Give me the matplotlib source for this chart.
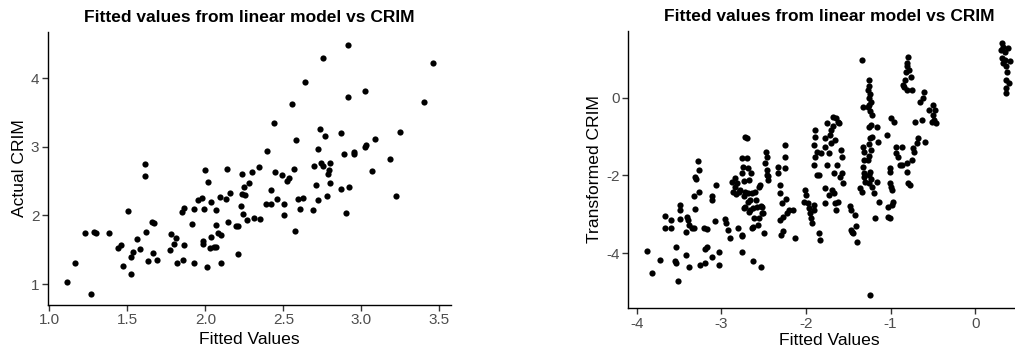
import matplotlib
matplotlib.use("Agg")
import matplotlib.pyplot as plt

plt.rcParams["font.family"] = ["Liberation Sans", "DejaVu Sans"]
plt.rcParams["axes.unicode_minus"] = False

# left panel: fitted vs actual CRIM
left_fitted = [
    1.115, 1.168, 1.228, 1.270, 1.285, 1.298, 1.383, 1.440, 1.462, 1.474,
    1.506, 1.521, 1.523, 1.536, 1.560, 1.581, 1.615, 1.611, 1.617, 1.632,
    1.657, 1.662, 1.674, 1.691, 1.774, 1.781, 1.798, 1.809, 1.819, 1.853,
    1.864, 1.862, 1.860, 1.915, 1.928, 1.926, 1.951, 1.977, 1.996, 1.991,
    1.983, 1.987, 2.009, 2.015, 2.028, 2.034, 2.036, 2.053, 2.068, 2.070,
    2.066, 2.079, 2.096, 2.100, 2.100, 2.138, 2.134, 2.145, 2.157, 2.198,
    2.209, 2.211, 2.228, 2.232, 2.234, 2.240, 2.249, 2.255, 2.270, 2.281,
    2.298, 2.309, 2.347, 2.343, 2.389, 2.398, 2.423, 2.421, 2.438, 2.445,
    2.462, 2.491, 2.502, 2.506, 2.521, 2.538, 2.553, 2.568, 2.577, 2.581,
    2.594, 2.606, 2.628, 2.636, 2.691, 2.696, 2.706, 2.719, 2.723, 2.736,
    2.738, 2.755, 2.751, 2.764, 2.779, 2.785, 2.794, 2.800, 2.798, 2.866,
    2.868, 2.887, 2.900, 2.913, 2.917, 2.919, 2.955, 2.955, 3.021, 3.026,
    3.028, 3.068, 3.087, 3.181, 3.223, 3.245, 3.404, 3.457,
]
left_actual = [
    1.03, 1.30, 1.75, 0.86, 1.76, 1.74, 1.74, 1.53, 1.57, 1.27,
    2.06, 1.39, 1.15, 1.46, 1.65, 1.51, 2.75, 2.57, 1.76, 1.33,
    1.91, 1.45, 1.89, 1.35, 1.49, 1.73, 1.59, 1.67, 1.30, 2.05,
    2.11, 1.57, 1.35, 1.88, 2.10, 1.30, 2.23, 2.25, 2.66, 2.10,
    1.63, 1.58, 1.25, 2.49, 1.52, 1.69, 2.20, 1.54, 2.08, 1.86,
    1.54, 1.74, 2.27, 1.72, 1.30, 2.67, 2.24, 1.91, 2.33, 1.85,
    1.44, 1.85, 2.14, 2.31, 2.60, 2.02, 2.41, 2.30, 1.94, 2.48,
    2.63, 1.96, 1.95, 2.71, 2.17, 2.94, 2.17, 2.37, 3.35, 2.64,
    2.24, 2.59, 2.00, 2.17, 2.50, 2.54, 3.63, 2.67, 1.77, 3.10,
    2.24, 2.10, 2.25, 3.94, 2.08, 2.72, 2.45, 2.97, 2.22, 3.26,
    2.77, 4.30, 2.72, 3.16, 2.28, 2.61, 2.66, 2.76, 2.47, 3.20,
    2.39, 2.89, 2.04, 4.49, 3.72, 2.41, 2.90, 2.93, 3.00, 3.82,
    3.03, 2.65, 3.11, 2.82, 2.29, 3.22, 3.65, 4.22,
]

# right panel: fitted vs transformed CRIM
right_fitted = [
    -3.88, -3.82, -3.72, -3.67, -3.66, -3.59, -3.59, -3.53, -3.55, -3.53,
    -3.51, -3.49, -3.49, -3.49, -3.42, -3.42, -3.41, -3.39, -3.38, -3.38,
    -3.35, -3.32, -3.31, -3.32, -3.31, -3.30, -3.27, -3.26, -3.26, -3.25,
    -3.20, -3.19, -3.17, -3.19, -3.17, -3.11, -3.11, -3.11, -3.06, -3.07,
    -3.03, -3.03, -2.96, -2.94, -2.92, -2.90, -2.87, -2.86, -2.84, -2.83,
    -2.82, -2.80, -2.79, -2.78, -2.76, -2.75, -2.76, -2.75, -2.73, -2.73,
    -2.73, -2.72, -2.70, -2.70, -2.68, -2.67, -2.68, -2.66, -2.67, -2.65,
    -2.64, -2.63, -2.62, -2.61, -2.60, -2.59, -2.58, -2.57, -2.54, -2.53,
    -2.53, -2.51, -2.49, -2.48, -2.47, -2.46, -2.46, -2.45, -2.45, -2.33,
    -2.84, -2.72, -2.64, -2.56, -2.72, -2.66, -2.52, -2.56, -2.52, -2.62,
    -2.76, -2.74, -2.46, -2.68,
    -2.33, -2.31, -2.31, -2.31, -2.30, -2.28, -2.27, -2.27, -2.25, -2.25,
    -2.25, -2.23, -2.22, -2.20, -2.15, -2.13, -2.01, -2.00, -2.02, -1.97,
    -1.96, -1.95, -1.94, -1.93, -1.91, -1.90, -1.89, -1.89, -1.91, -1.89,
    -1.90, -1.87, -1.87, -1.85, -1.84, -1.83, -1.82, -1.78, -1.78, -1.78,
    -1.77, -1.75, -1.75, -1.73, -1.73, -1.72, -1.70, -1.70, -1.69, -1.68,
    -1.68, -1.67, -1.67, -1.66, -1.66, -1.64, -1.64, -1.63, -1.62, -1.62,
    -1.61, -1.60, -1.59, -1.57, -1.57, -1.56, -1.48, -1.47, -1.47, -1.46,
    -1.44, -1.42, -1.41, -1.40, -1.34, -1.36, -1.34, -1.33, -1.32, -1.31,
    -1.31, -1.32, -1.31, -1.31, -1.30,
    -1.26, -1.25, -1.27, -1.24, -1.26, -1.23, -1.25, -1.27, -1.24, -1.22,
    -1.23, -1.25, -1.22, -1.24, -1.26, -1.23, -1.25, -1.27, -1.24, -1.26,
    -1.23, -1.25, -1.22,
    -1.24, -1.19, -1.18, -1.16, -1.15, -1.16, -1.14, -1.04, -1.03, -1.03,
    -1.01, -1.00, -1.01, -1.01, -1.01, -1.00, -0.98, -0.98, -0.97, -0.96,
    -0.93, -0.93, -0.91, -0.89, -0.87, -0.87, -0.85, -0.84, -0.83, -0.82,
    -0.81, -0.80, -0.79, -0.78, -0.76, -0.81, -0.81, -0.80, -0.79, -0.77,
    -0.75, -0.75, -0.73, -0.72, -0.71, -0.69, -0.67, -0.65, -0.63, -0.62,
    -0.61, -0.59, -0.55, -0.50, -0.50, -0.49, -0.48, -0.46, -0.51,
    0.315, 0.307, 0.33, 0.32, 0.335, 0.35, 0.37, 0.38, 0.39, 0.41,
    0.37, 0.37, 0.40, 0.37, 0.35,
]
right_crim = [
    -3.93, -4.51, -4.17, -3.04, -3.34, -3.14, -3.34, -3.83, -4.20, -4.26,
    -4.71, -2.75, -2.90, -3.12, -4.04, -3.46, -3.06, -3.14, -3.27, -4.34,
    -3.34, -2.54, -2.86, -3.34, -2.03, -2.09, -1.64, -1.86, -2.43, -4.30,
    -3.36, -4.26, -3.37, -3.90, -3.85, -2.54, -2.63, -4.09, -2.24, -3.17,
    -3.96, -4.30, -3.13, -3.23, -3.40, -3.60, -2.16, -2.42, -2.29, -2.48,
    -2.19, -3.34, -2.42, -2.37, -3.97, -3.55, -1.94, -1.56, -2.14, -2.54,
    -2.84, -1.00, -1.04, -1.56, -1.82, -2.12, -2.46, -2.63, -2.93, -1.94,
    -3.36, -4.21, -2.84, -3.10, -2.42, -2.63, -2.80, -3.27, -2.24, -4.34,
    -2.78, -2.96, -3.47, -1.69, -1.39, -1.52, -1.86, -2.01, -2.12, -1.77,
    -2.07, -2.42, -2.46, -2.29, -2.80, -2.89, -2.80, -3.10, -2.97, -3.32,
    -3.53, -1.77, -1.99, -2.67,
    -1.94, -2.24, -2.44, -3.14, -3.53, -2.72, -3.44, -3.06, -1.22, -1.52,
    -1.82, -2.61, -2.97, -2.90, -2.90, -3.60, -2.37, -2.50, -2.67, -2.72,
    -2.84, -2.97, -3.10, -3.23, -2.76, -2.89, -0.83, -1.00, -1.23, -1.52,
    -1.73, -1.99, -1.39, -1.99, -3.49, -3.66, -1.43, -1.04, -2.33, -2.72,
    -1.26, -0.64, -1.73, -2.50, -1.43, -0.95, -0.83, -1.17, -2.37, -0.49,
    -0.73, -1.94, -2.46, -2.72, -1.09, -0.53, -2.90, -1.73, -0.62, -2.67,
    -0.66, -2.03, -1.34, -1.52, -1.94, -2.20, -2.78, -2.90, -3.40, -3.46,
    -3.49, -3.01, -3.30, -3.70, 0.97, -2.33, -2.42, -0.23, -1.26, -1.39,
    -1.60, -1.77, -1.94, -2.03, -2.16,
    0.45, 0.30, 0.20, 0.10, 0.00, -0.10, -0.20, -0.25, -0.35, -0.45,
    -0.70, -0.75, -1.00, -1.05, -1.20, -1.35, -1.50, -1.60, -1.90, -2.00,
    -2.10, -2.20, -2.30,
    -5.07, -2.46, -3.10, -0.75, -1.13, -2.16, -2.67, -0.96, -2.80, -3.06,
    -3.10, -0.53, -1.82, -1.90, -2.20, -2.29, -2.37, -2.76, -2.67, -0.62,
    -1.26, -1.43, -1.52, -1.73, -1.26, -1.73, 0.33, 0.27, 0.45, 0.67,
    0.80, 0.88, 1.05, 0.71, 0.54, 0.20, -1.69, -1.90, -2.20, -2.24,
    0.20, -1.60, -1.30, -1.39, -0.62, -1.17, -1.04, -0.10, -0.57, -0.02,
    0.15, -1.13, -0.32, -0.19, -0.45, -0.57, -0.32, -0.66, -0.62,
    1.40, 1.22, 1.31, 1.01, 0.88, 0.97, 0.80, 0.67, 1.27, 0.93,
    0.45, 0.24, 0.37, 0.11, 1.16,
]

title = "Fitted values from linear model vs CRIM"
x_label = "Fitted Values"
left_ylabel = "Actual CRIM"
right_ylabel = "Transformed CRIM"
left_xticks = [1.0, 1.5, 2.0, 2.5, 3.0, 3.5]
left_yticks = [1, 2, 3, 4]
right_xticks = [-4, -3, -2, -1, 0]
right_yticks = [-4, -2, 0]

W, H = 1015, 350
fig = plt.figure(figsize=(W / 100, H / 100), dpi=100)


def px_axes(x0, y0, x1, y1):
    # pixel box (top-left origin) to figure fraction
    return fig.add_axes([x0 / W, 1 - y1 / H, (x1 - x0) / W, (y1 - y0) / H])


def style(ax):
    for side in ("top", "right"):
        ax.spines[side].set_visible(False)
    for side in ("left", "bottom"):
        ax.spines[side].set_linewidth(1.0)
        ax.spines[side].set_color("black")
    ax.tick_params(length=4, width=1.0, color="#333333", labelsize=11,
                   labelcolor="#4D4D4D", pad=2)


ax1 = px_axes(47.7, 32, 450.7, 305)
ax1.scatter(left_fitted, left_actual, s=20, color="black", linewidths=0)
ax1.set_xlim(0.99, 3.572)
ax1.set_ylim(0.694, 4.675)
ax1.set_xticks(left_xticks)
ax1.set_xticklabels([f"{t:.1f}" for t in left_xticks])
ax1.set_yticks(left_yticks)
style(ax1)
ax1.set_title(title, fontsize=12.5, fontweight="bold", pad=7)
ax1.set_xlabel(x_label, fontsize=12.6, labelpad=3)
ax1.set_ylabel(left_ylabel, fontsize=12.6, labelpad=3)

ax2 = px_axes(628.3, 30.7, 1031, 308.3)
ax2.scatter(right_fitted, right_crim, s=20, color="black", linewidths=0)
ax2.set_xlim(-4.099, 0.66)
ax2.set_ylim(-5.414, 1.72)
ax2.set_xticks(right_xticks)
ax2.set_yticks(right_yticks)
style(ax2)
ax2.set_title(title, fontsize=12.5, fontweight="bold", pad=7)
ax2.set_xlabel(x_label, fontsize=12.6, labelpad=2)
ax2.set_ylabel(right_ylabel, fontsize=12.6, labelpad=3)

fig.savefig("out.png", dpi=100)
